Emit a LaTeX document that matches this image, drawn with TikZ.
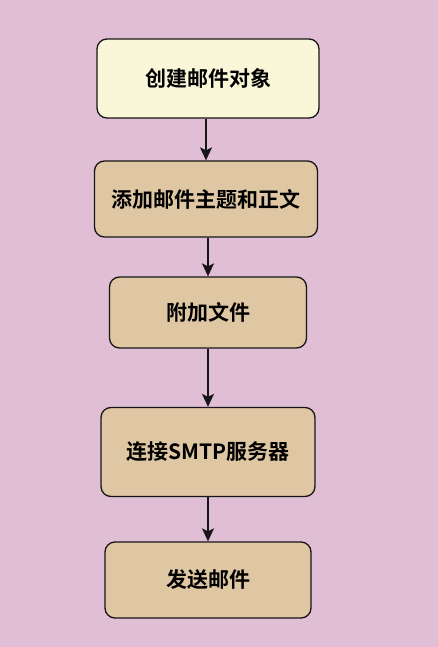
\documentclass[tikz,border=0pt]{standalone}
\usepackage{fontspec}
\newfontfamily\cjk{Noto Sans CJK SC Bold}
\usetikzlibrary{arrows.meta}
\definecolor{bgc}{HTML}{E0BED6}
\definecolor{yel}{HTML}{FAF7D9}
\definecolor{tan}{HTML}{E0C7A3}
\definecolor{edge}{HTML}{161616}
\tikzset{
  stepbox/.style={draw=edge, line width=1.3pt, rounded corners=10pt, fill=tan,
    inner sep=0pt, font=\cjk\fontsize{21pt}{24pt}\selectfont, text=black},
  flow/.style={draw=edge, line width=1.4pt, -{Stealth[length=13pt,width=12pt,inset=3pt]}}
}
\begin{document}
\begin{tikzpicture}[x=1pt,y=1pt]
\fill[bgc] (0,0) rectangle (438,-647);
\useasboundingbox (0,0) rectangle (438,-647);
\node[stepbox, fill=yel, minimum width=222pt, minimum height=79pt] (b1) at (208,-78.5) {创建邮件对象};
\node[stepbox, minimum width=223pt, minimum height=76pt] (b2) at (206,-199) {添加邮件主题和正文};
\node[stepbox, minimum width=197pt, minimum height=71pt] (b3) at (208,-312.5) {附加文件};
\node[stepbox, minimum width=214pt, minimum height=89pt] (b4) at (208,-452) {连接SMTP服务器};
\node[stepbox, minimum width=206pt, minimum height=76pt] (b5) at (208,-580) {发送邮件};
\draw[flow] (b1.south -| b2.north) -- (b2.north);
\draw[flow] (b2.south -| b3.north) -- (b3.north);
\draw[flow] (b3.south -| b4.north) -- (b4.north);
\draw[flow] (b4.south -| b5.north) -- (b5.north);
\end{tikzpicture}
\end{document}
